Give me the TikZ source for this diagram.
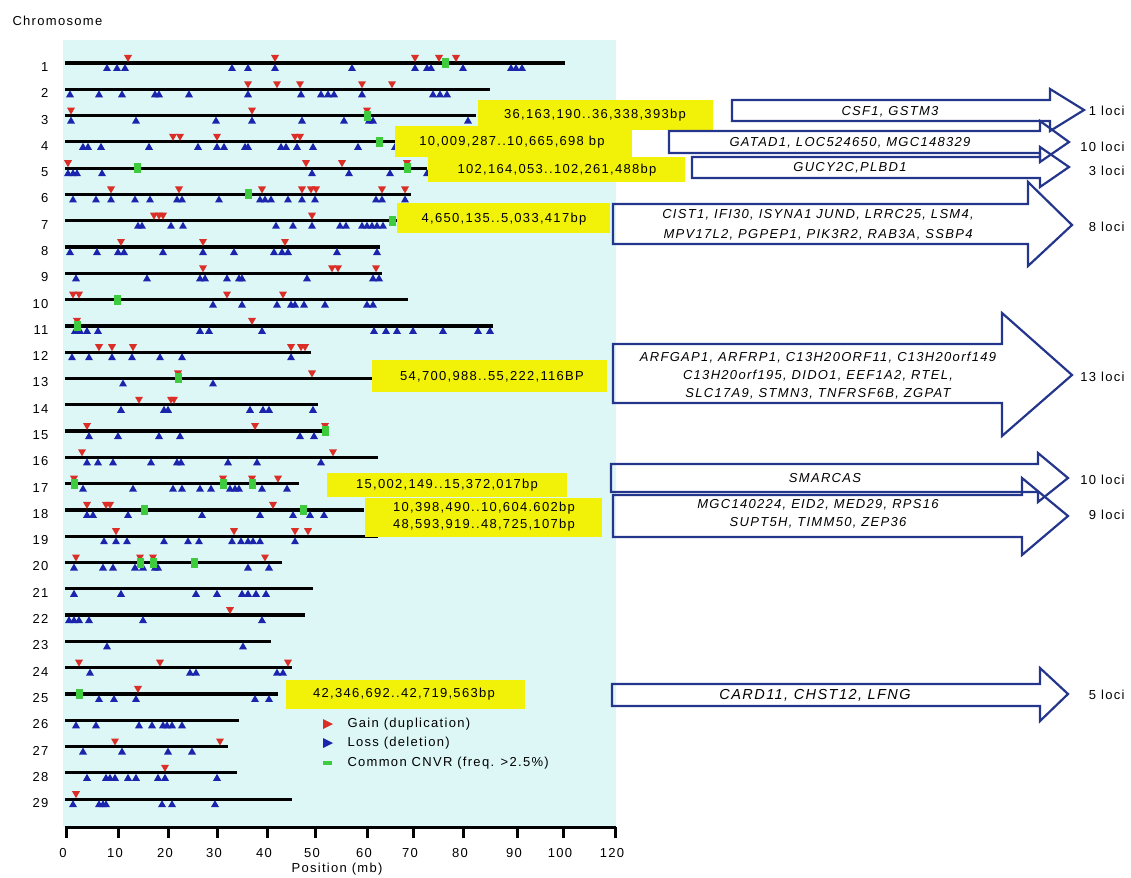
\documentclass[tikz,border=0pt]{standalone}
\usepackage{fontspec}
\setmainfont{Liberation Sans}[LetterSpace=10]
\usepackage{tikz}
\definecolor{panelcyan}{RGB}{221,247,247}
\definecolor{boxyellow}{RGB}{242,242,8}
\definecolor{arrowblue}{RGB}{36,54,140}
\definecolor{gainred}{RGB}{218,46,38}
\definecolor{lossblue}{RGB}{26,36,172}
\definecolor{cnvrgreen}{RGB}{62,204,62}
\newcommand{\rowy}[1]{63+(#1-1)*26.29}
\newcommand{\markloss}[2]{\fill[lossblue] (#1,{\rowy{#2}+1}) -- ++(-4,7) -- ++(8,0) -- cycle;}
\newcommand{\markgain}[2]{\fill[gainred] (#1,{\rowy{#2}-1}) -- ++(-4,-7) -- ++(8,0) -- cycle;}
\newcommand{\markcnvr}[2]{\fill[cnvrgreen] (#1-3,{\rowy{#2}-5}) rectangle ++(7,10);}

\begin{document}
\begin{tikzpicture}[x=1pt,y=-1pt,font=\fontsize{13}{18}\selectfont,
  chrline/.style={line width=3.2pt},
  axisline/.style={line width=3pt},
  blockarrow/.style={draw=arrowblue,line width=2.2pt},
  genes/.style={font=\fontsize{13}{18}\selectfont\itshape,align=center},
  loci/.style={anchor=east}]
\useasboundingbox (0,0) rectangle (1131,877);
% Plot panel
\fill[panelcyan] (63,40) rectangle (616,827);
\node[anchor=west] (chrtitle) at (9,21) {Chromosome};
% Chromosome bars and numbers
\foreach \r/\len in {1/565,2/490,3/476,4/395,5/427,6/411,7/397,8/380,9/382,10/408,
  11/493,12/311,13/372,14/318,15/328,16/378,17/299,18/364,19/378,20/282,
  21/313,22/305,23/271,24/292,25/278,26/239,27/228,28/237,29/292} {
  \node[anchor=east] (chr\r) at (52,{\rowy{\r}+4}) {\r};
  \draw[chrline] (65,{\rowy{\r}}) -- (\len,{\rowy{\r}});
}
% Losses (deletion)
\foreach \r/\xs in {1/{107,117,125,232,248,275,352,415,427,431,463,511,516,522},
  2/{70,99,122,155,159,189,248,301,321,328,334,362,433,440,447},
  3/{71,136,216,252,302,344,369,373,468},
  4/{83,88,101,149,198,217,224,245,248,281,286,297,313,358,395},
  5/{68,73,77,102,312,349,390,427},
  6/{73,96,111,135,150,177,182,219,260,265,271,288,302,315,376,382,405},
  7/{138,142,171,183,276,293,312,340,346,362,367,372,377,383},
  8/{70,97,118,124,163,203,234,274,282,288,337,377},
  9/{76,147,200,205,227,239,242,307,373,379},
  10/{213,242,277,291,295,304,325,367,373},
  11/{75,80,87,98,200,209,262,374,386,397,413,443,478,490},
  12/{72,89,112,132,160,182,291},
  13/{123,213},
  14/{121,164,168,250,263,269,313},
  15/{89,118,159,180,300,314},
  16/{87,98,113,151,177,181,228,257,321},
  17/{83,133,173,182,200,211,230,235,239,262,287},
  18/{87,93,128,202,260,293,310,324},
  19/{104,116,127,164,188,199,232,241,248,253,260,295},
  20/{74,103,113,135,143,155,158,248,269},
  21/{74,121,196,217,242,248,256,266},
  22/{69,74,79,89,143,262},
  23/{107,243},
  24/{90,190,196,277,283},
  25/{99,114,136,255,269},
  26/{76,96,139,152,163,167,172,182},
  27/{83,122,168,192},
  28/{87,106,110,115,128,136,158,165,217},
  29/{73,99,103,106,162,172,215}}
  \foreach \x in \xs \markloss{\x}{\r};
% Gains (duplication)
\foreach \r/\xs in {1/{128,275,415,439,456},
  2/{248,277,300,362,392},
  3/{71,252,367},
  4/{173,180,217,295,300},
  5/{68,306,342,407},
  6/{111,179,262,302,311,316,382,405},
  7/{154,159,163,312},
  8/{121,203,285},
  9/{203,332,338,376},
  10/{73,79,227,283},
  11/{77,252},
  12/{99,112,133,291,301,305},
  13/{178,312},
  14/{139,171,174},
  15/{87,255,325},
  16/{82,333},
  17/{74,223,252,278},
  18/{87,106,110,273},
  19/{116,234,295,308},
  20/{76,140,153,265},
  22/{230},
  24/{79,160,288},
  25/{138},
  27/{115,220},
  28/{165},
  29/{76}}
  \foreach \x in \xs \markgain{\x}{\r};
% Common CNVR
\foreach \r/\xs in {1/{445},3/{367},4/{379},5/{137,407},6/{248},7/{392},10/{117},
  11/{77},13/{178},15/{325},17/{74,223,252},18/{144,303},20/{140,153,194},25/{79}}
  \foreach \x in \xs \markcnvr{\x}{\r};
% Yellow region boxes
\fill[boxyellow] (478,100) rectangle (713,130);
\fill[boxyellow] (395,126) rectangle (632,157);
\fill[boxyellow] (428,157) rectangle (685,182);
\fill[boxyellow] (397,203) rectangle (610,233);
\fill[boxyellow] (372,360) rectangle (607,392);
\fill[boxyellow] (327,473) rectangle (567,497);
\fill[boxyellow] (365,498) rectangle (602,537);
\fill[boxyellow] (286,680) rectangle (525,709);
\node (regA) at (595,115) {36,163,190..36,338,393bp};
\node (regB) at (512,142) {10,009,287..10,665,698 bp};
\node (regC) at (557,170) {102,164,053..102,261,488bp};
\node (regD) at (504,219) {4,650,135..5,033,417bp};
\node (regE) at (492,377) {54,700,988..55,222,116BP};
\node (regF) at (447,485) {15,002,149..15,372,017bp};
\node[align=center,font=\fontsize{13}{17}\selectfont] (regG) at (484,517) {10,398,490..10,604.602bp\\48,593,919..48,725,107bp};
\node (regH) at (404,694) {42,346,692..42,719,563bp};
% Legend
\fill[gainred] (323,719) -- (333,724) -- (323,729) -- cycle;
\fill[lossblue] (323,738) -- (333,743) -- (323,748) -- cycle;
\fill[cnvrgreen] (323,761) rectangle (332,765);
\node[anchor=west] (leggain) at (344,724) {Gain (duplication)};
\node[anchor=west] (legloss) at (344,743) {Loss (deletion)};
\node[anchor=west] (legcnvr) at (344,763) {Common CNVR (freq. >2.5\%)};
% Axis
\draw[axisline] (65,827) -- (616,827);
\foreach \tx/\lab in {66/0,118/10,168/20,217/30,267/40,315/50,367/60,413/70,463/80,517/90,563/100,615/120} {
  \draw[axisline] (\tx,827) -- (\tx,838);
  \node (tick\lab) at (\tx-3,853) {\lab};
}
\node (xtitle) at (337,869) {Position (mb)};
% Gene arrows
\draw[blockarrow] (732,100) -- (1050,100) -- (1050,89) -- (1084,110) -- (1050,131) -- (1050,121) -- (732,121) -- cycle;
\draw[blockarrow] (669,131) -- (1040,131) -- (1040,121) -- (1069,142) -- (1040,162) -- (1040,153) -- (669,153) -- cycle;
\draw[blockarrow] (692,157) -- (1040,157) -- (1040,147) -- (1069,167) -- (1040,187) -- (1040,178) -- (692,178) -- cycle;
\draw[blockarrow] (613,204) -- (1028,204) -- (1028,182) -- (1072,225) -- (1028,266) -- (1028,244) -- (613,244) -- cycle;
\draw[blockarrow] (613,344) -- (1002,344) -- (1002,313) -- (1072,375) -- (1002,436) -- (1002,403) -- (613,403) -- cycle;
\draw[blockarrow] (611,464) -- (1038,464) -- (1038,453) -- (1068,478) -- (1038,502) -- (1038,492) -- (611,492) -- cycle;
\draw[blockarrow] (613,495) -- (1022,495) -- (1022,478) -- (1068,516) -- (1022,555) -- (1022,537) -- (613,537) -- cycle;
\draw[blockarrow] (612,684) -- (1040,684) -- (1040,668) -- (1068,694) -- (1040,721) -- (1040,706) -- (612,706) -- cycle;
\node[genes] (geneA) at (890,112) {CSF1, GSTM3};
\node[genes] (geneB) at (850,143) {GATAD1, LOC524650, MGC148329};
\node[genes] (geneC) at (850,168) {GUCY2C,PLBD1};
\node[genes,font=\fontsize{13}{20}\selectfont\itshape] (geneD) at (818,225) {CIST1, IFI30, ISYNA1 JUND, LRRC25, LSM4,\\MPV17L2, PGPEP1, PIK3R2, RAB3A, SSBP4};
\node[genes] (geneE) at (818,376) {ARFGAP1, ARFRP1, C13H20ORF11, C13H20orf149\\C13H20orf195, DIDO1, EEF1A2, RTEL,\\SLC17A9, STMN3, TNFRSF6B, ZGPAT};
\node[genes] (geneF) at (825,478) {SMARCAS};
\node[genes] (geneG) at (818,514) {MGC140224, EID2, MED29, RPS16\\SUPT5H, TIMM50, ZEP36};
\node[genes,font=\fontsize{14.5}{18}\selectfont\itshape] (geneH) at (815,695) {CARD11, CHST12, LFNG};
% Loci counts
\node[loci] (lociA) at (1128,111) {1 loci};
\node[loci] (lociB) at (1128,147) {10 loci};
\node[loci] (lociC) at (1128,171) {3 loci};
\node[loci] (lociD) at (1128,227) {8 loci};
\node[loci] (lociE) at (1128,377) {13 loci};
\node[loci] (lociF) at (1128,480) {10 loci};
\node[loci] (lociG) at (1128,515) {9 loci};
\node[loci] (lociH) at (1128,695) {5 loci};
\end{tikzpicture}
\end{document}
